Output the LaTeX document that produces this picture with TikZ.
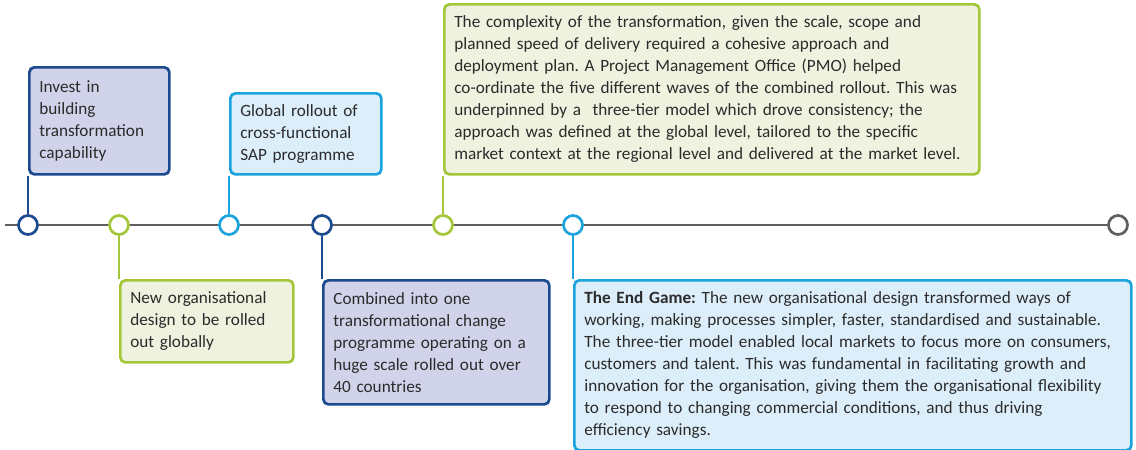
\documentclass[tikz,border=0pt]{standalone}
\usepackage{fontspec}
\setmainfont{Carlito}
\frenchspacing

\definecolor{navy}{HTML}{1B4A8E}
\definecolor{navyfill}{HTML}{D0D3E9}
\definecolor{lime}{HTML}{A4C639}
\definecolor{limefill}{HTML}{EEF2DF}
\definecolor{sky}{HTML}{1AA3DD}
\definecolor{skyfill}{HTML}{DDEEFB}
\definecolor{axis}{HTML}{5F5F5F}
\definecolor{ink}{HTML}{2B2B2B}

\begin{document}
\begin{tikzpicture}[x=1pt,y=-1pt,
  dot/.style={circle,draw,fill=white,line width=2.7pt,minimum size=19pt,inner sep=0pt},
  card/.style={rounded corners=5pt,line width=2.7pt,inner xsep=10pt,inner ysep=0pt,
    anchor=north west,align=left,text=ink,font=\fontsize{17.2}{22}\selectfont},
  stem/.style={line width=2.7pt}]
  \useasboundingbox (0,0) rectangle (1136,450);

  % time axis
  \coordinate (start) at (5,225);
  \coordinate (end) at (1118,225);
  \draw[axis,line width=2.7pt] (start) -- (end);

  \node[dot,draw=navy] (c1) at (28,225) {};
  \node[dot,draw=lime] (c2) at (119,225) {};
  \node[dot,draw=sky] (c3) at (229,225) {};
  \node[dot,draw=navy] (c4) at (322,225) {};
  \node[dot,draw=lime] (c5) at (443,225) {};
  \node[dot,draw=sky] (c6) at (573,225) {};
  \node[dot,draw=axis] (c7) at (end) {};

  % milestones above the axis
  \node[card,draw=navy,fill=navyfill,text width=120,minimum height=107] (b1) at (28,66)
    {Invest in\\building\\transformation\\capability};
  \node[card,draw=sky,fill=skyfill,text width=131,minimum height=81] (b3) at (229,92)
    {Global rollout of\\cross-functional\\SAP programme};
  \node[card,draw=lime,fill=limefill,text width=515,minimum height=170] (b5) at (443,3)
    {The complexity of the transformation, given the scale, scope and\\
     planned speed of delivery required a cohesive approach and\\
     deployment plan. A Project Management Office (PMO) helped\\
     co-ordinate the five different waves of the combined rollout. This was\\
     underpinned by a\ \ three-tier model which drove consistency; the\\
     approach was defined at the global level, tailored to the specific\\
     market context at the regional level and delivered at the market level.};

  % milestones below the axis
  \node[card,draw=lime,fill=limefill,text width=153,minimum height=82] (b2) at (119,279)
    {New organisational\\design to be rolled\\out globally};
  \node[card,draw=navy,fill=navyfill,text width=206,minimum height=124] (b4) at (322,279)
    {Combined into one\\transformational change\\programme operating on a\\huge scale rolled out over\\40 countries};
  \node[card,draw=sky,fill=skyfill,text width=537,minimum height=170] (b6) at (573,279)
    {\textbf{The End Game:} The new organisational design transformed ways of\\
     working, making processes simpler, faster, standardised and sustainable.\\
     The three-tier model enabled local markets to focus more on consumers,\\
     customers and talent. This was fundamental in facilitating growth and\\
     innovation for the organisation, giving them the organisational flexibility\\
     to respond to changing commercial conditions, and thus driving\\
     efficiency savings.};

  \draw[stem,navy] (c1) -- (b1.south west);
  \draw[stem,lime] (c2) -- (b2.north west);
  \draw[stem,sky] (c3) -- (b3.south west);
  \draw[stem,navy] (c4) -- (b4.north west);
  \draw[stem,lime] (c5) -- (b5.south west);
  \draw[stem,sky] (c6) -- (b6.north west);
\end{tikzpicture}
\end{document}
